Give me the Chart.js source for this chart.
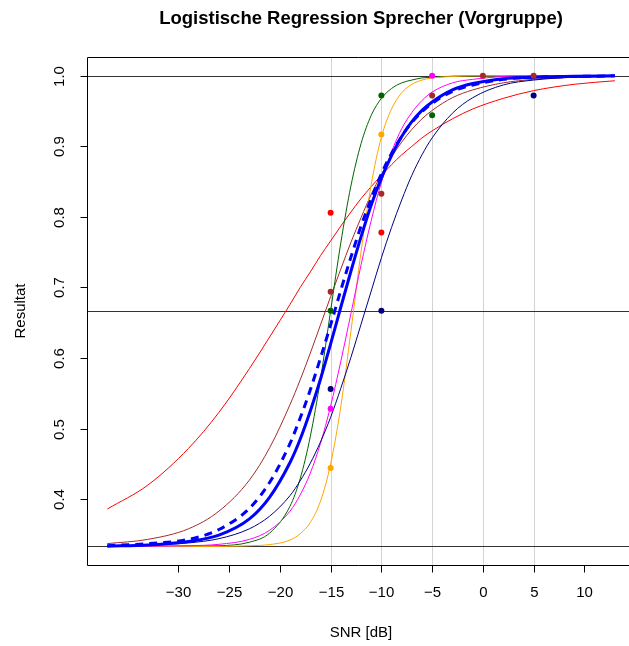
<!DOCTYPE html>
<html>
<head>
<meta charset="utf-8">
<script src="https://cdn.jsdelivr.net/npm/chart.js@4.4.1/dist/chart.umd.min.js"></script>
<style>
  html, body { margin: 0; padding: 0; background: #fff; overflow: hidden; }
</style>
</head>
<body>
<canvas id="chart" width="629" height="646"></canvas>
<script>
// SNR grid of the fitted curves
const curveX = [-37, -33, -29, -26, -23, -21, -19, -18, -17, -16, -15, -14, -13, -12, -11, -10, -9, -8, -7, -6, -5, -3, -1, 2, 5, 9, 13];

const curveRed     = [0.386, 0.420, 0.472, 0.523, 0.585, 0.630, 0.676, 0.700, 0.722, 0.745, 0.766, 0.787, 0.807, 0.826, 0.843, 0.859, 0.874, 0.888, 0.900, 0.912, 0.922, 0.939, 0.953, 0.968, 0.979, 0.988, 0.993];
const curveBrown   = [0.337, 0.343, 0.358, 0.383, 0.427, 0.473, 0.534, 0.569, 0.607, 0.647, 0.687, 0.726, 0.764, 0.799, 0.832, 0.860, 0.885, 0.906, 0.924, 0.939, 0.951, 0.969, 0.980, 0.990, 0.995, 0.998, 0.999];
const curveGreen   = [0.333, 0.333, 0.3335, 0.334, 0.339, 0.352, 0.390, 0.429, 0.489, 0.570, 0.667, 0.763, 0.844, 0.904, 0.944, 0.968, 0.982, 0.990, 0.994, 0.997, 0.998, 0.9995, 1.0, 1.0, 1.0, 1.0, 1.0];
const curveOrange  = [0.333, 0.333, 0.333, 0.333, 0.334, 0.3356, 0.342, 0.351, 0.367, 0.397, 0.450, 0.531, 0.638, 0.751, 0.846, 0.913, 0.953, 0.976, 0.988, 0.994, 0.997, 0.999, 1.0, 1.0, 1.0, 1.0, 1.0];
const curveMagenta = [0.333, 0.3335, 0.334, 0.336, 0.343, 0.356, 0.383, 0.406, 0.437, 0.479, 0.532, 0.595, 0.663, 0.732, 0.795, 0.849, 0.892, 0.925, 0.948, 0.965, 0.977, 0.990, 0.995, 0.999, 1.0, 1.0, 1.0];
const curveNavy    = [0.334, 0.335, 0.338, 0.344, 0.358, 0.376, 0.405, 0.426, 0.451, 0.481, 0.516, 0.557, 0.601, 0.648, 0.695, 0.742, 0.785, 0.824, 0.859, 0.888, 0.912, 0.947, 0.969, 0.987, 0.994, 0.998, 0.999];
const curveBlue    = [0.3334, 0.335, 0.340, 0.349, 0.372, 0.403, 0.452, 0.485, 0.525, 0.570, 0.620, 0.672, 0.723, 0.772, 0.817, 0.855, 0.887, 0.914, 0.935, 0.951, 0.963, 0.980, 0.989, 0.996, 0.998, 0.9995, 1.0];
const curveBlueDash = [0.334, 0.337, 0.343, 0.357, 0.387, 0.424, 0.479, 0.515, 0.555, 0.600, 0.647, 0.696, 0.743, 0.787, 0.826, 0.861, 0.890, 0.914, 0.934, 0.949, 0.961, 0.978, 0.987, 0.995, 0.998, 0.999, 1.0];

// measured points per speaker (null = not visible)
const pointX = [-15, -10, -5, 0, 5];
const ptRed     = [0.806, 0.778, null, null, null];
const ptBrown   = [0.694, 0.833, 0.972, 1.0, 1.0];
const ptGreen   = [0.667, 0.972, 0.944, null, null];
const ptOrange  = [0.444, 0.917, null, null, null];
const ptMagenta = [0.528, null, 1.0, null, null];
const ptNavy    = [0.556, 0.667, null, null, 0.972];

// axes
const xTicks = [-30, -25, -20, -15, -10, -5, 0, 5, 10];
const yTicks = [0.4, 0.5, 0.6, 0.7, 0.8, 0.9, 1.0];
const gridX = [-15, -10, -5, 0, 5];
const refLevels = [1 / 3, 2 / 3, 1];

const FONT = '"Liberation Sans", Arial, Helvetica, sans-serif';

function xy(xs, ys) {
    return xs.map((x, i) => ({ x: x, y: ys[i] }));
}

function curve(ys, color, width, dash) {
    return {
        type: 'line',
        data: xy(curveX, ys),
        borderColor: color,
        borderWidth: width || 1,
        borderDash: dash || [],
        pointRadius: 0,
        fill: false,
        cubicInterpolationMode: 'monotone'
    };
}

function dots(ys, color) {
    return {
        type: 'scatter',
        data: xy(pointX, ys),
        showLine: false,
        pointRadius: 3,
        pointBorderWidth: 0,
        pointBackgroundColor: color,
        pointBorderColor: color
    };
}

// R-like frame, reference lines, ticks and texts
const rFrame = {
    id: 'rFrame',
    beforeDatasetsDraw(chart) {
        const { ctx, chartArea: a, scales } = chart;
        ctx.save();
        ctx.lineWidth = 1;
        ctx.strokeStyle = '#d3d3d3';
        gridX.forEach(v => {
            const px = Math.round(scales.x.getPixelForValue(v)) + 0.5;
            ctx.beginPath();
            ctx.moveTo(px, a.top);
            ctx.lineTo(px, a.bottom);
            ctx.stroke();
        });
        ctx.strokeStyle = '#333';
        refLevels.forEach(v => {
            const py = Math.round(scales.y.getPixelForValue(v)) + 0.5;
            ctx.beginPath();
            ctx.moveTo(a.left, py);
            ctx.lineTo(chart.width, py);
            ctx.stroke();
        });
        ctx.restore();
    },
    afterDraw(chart) {
        const { ctx, chartArea: a, scales } = chart;
        const L = Math.round(a.left) + 0.5, T = Math.round(a.top) + 0.5, B = Math.round(a.bottom) + 0.5;
        const W = chart.width;
        ctx.save();
        ctx.strokeStyle = '#000';
        ctx.lineWidth = 1;
        // box (right side lies outside the picture)
        ctx.beginPath();
        ctx.moveTo(W, T);
        ctx.lineTo(L, T);
        ctx.lineTo(L, B);
        ctx.lineTo(W, B);
        ctx.stroke();

        ctx.fillStyle = '#000';
        ctx.font = '15px ' + FONT;
        // x axis
        ctx.textAlign = 'center';
        ctx.textBaseline = 'middle';
        xTicks.forEach(v => {
            const px = Math.round(scales.x.getPixelForValue(v)) + 0.5;
            ctx.beginPath();
            ctx.moveTo(px, B);
            ctx.lineTo(px, B + 7);
            ctx.stroke();
            ctx.fillText(v < 0 ? '\u2212' + Math.abs(v) : String(v), px, 593);
        });
        // y axis
        yTicks.forEach(v => {
            const py = Math.round(scales.y.getPixelForValue(v)) + 0.5;
            ctx.beginPath();
            ctx.moveTo(L, py);
            ctx.lineTo(L - 7, py);
            ctx.stroke();
            ctx.save();
            ctx.translate(60, py);
            ctx.rotate(-Math.PI / 2);
            ctx.fillText(v.toFixed(1), 0, 0);
            ctx.restore();
        });
        // titles
        const cx = 361;
        ctx.fillText('SNR [dB]', cx, 633);
        ctx.save();
        ctx.translate(21, (a.top + a.bottom) / 2);
        ctx.rotate(-Math.PI / 2);
        ctx.fillText('Resultat', 0, 0);
        ctx.restore();
        ctx.font = 'bold 18.5px ' + FONT;
        ctx.fillText('Logistische Regression Sprecher (Vorgruppe)', cx, 19);
        ctx.restore();
    }
};

const ctx = document.getElementById('chart').getContext('2d');
new Chart(ctx, {
    type: 'line',
    data: {
        datasets: [
            dots(ptBrown, '#a52a2a'),
            dots(ptMagenta, '#ff00ff'),
            dots(ptGreen, '#006400'),
            dots(ptOrange, '#ffa500'),
            dots(ptNavy, '#000080'),
            dots(ptRed, '#ff0000'),
            curve(curveBlue, '#0000ff', 3),
            curve(curveBlueDash, '#0000ff', 3, [8, 6]),
            curve(curveNavy, '#000080'),
            curve(curveMagenta, '#ff00ff'),
            curve(curveOrange, '#ffa500'),
            curve(curveGreen, '#006400'),
            curve(curveBrown, '#a52a2a'),
            curve(curveRed, '#ff0000')
        ]
    },
    options: {
        responsive: false,
        animation: false,
        layout: { padding: { left: 87, top: 57, right: 0, bottom: 81 } },
        scales: {
            x: { type: 'linear', min: -39, max: 14.0, display: false },
            y: { type: 'linear', min: 0.30667, max: 1.02667, display: false }
        },
        plugins: {
            legend: { display: false },
            tooltip: { enabled: false },
            title: { display: false }
        }
    },
    plugins: [rFrame]
});
</script>
</body>
</html>
